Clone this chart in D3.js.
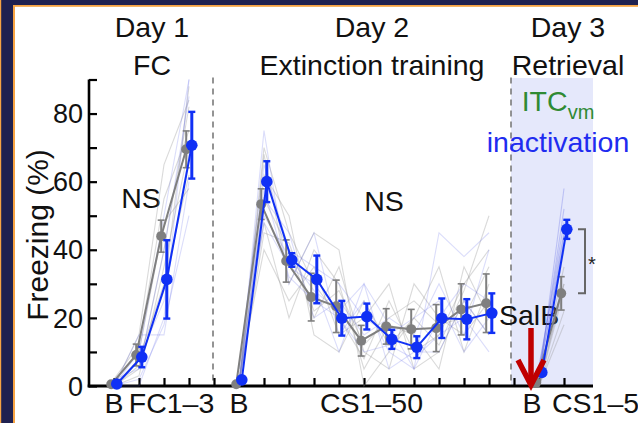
<!DOCTYPE html>
<html><head><meta charset="utf-8">
<script src="https://cdn.jsdelivr.net/npm/d3@7"></script>
<style>
body{margin:0;background:#fff}
svg{display:block}
text{font-family:"Liberation Sans",Arial,Helvetica,sans-serif}
</style>
</head><body>
<svg id="c" width="638" height="423"></svg>
<script>
// ---------- data ----------
const dayTitles = ["Day 1", "Day 2", "Day 3"];
const daySubtitles = ["FC", "Extinction training", "Retrieval"];
const day1Cats = ["B", "FC1", "FC2", "FC3"];
const day2Cats = ["B", "CS1-5", "CS6-10", "CS11-15", "CS16-20", "CS21-25", "CS26-30", "CS31-35", "CS36-40", "CS41-45", "CS46-50"];
const day3Cats = ["B", "CS1-5"];

// group means (% freezing) and SEM
const ctrlMean1 = [0.5, 9.1, 44.0, 69.5];
const ctrlErr1  = [0.3, 3.2, 4.7, 5.4];
const itcMean1  = [0.6, 8.5, 31.3, 70.7];
const itcErr1   = [0.3, 3.0, 11.5, 9.8];

const ctrlMean2 = [0.5, 53.4, 36.7, 26.1, 23.4, 13.3, 17.5, 16.7, 17.0, 22.5, 24.3];
const ctrlErr2  = [0.3, 4.5, 6.2, 7.0, 7.7, 4.5, 5.2, 5.8, 6.9, 7.5, 8.6];
const itcMean2  = [1.8, 60.0, 37.0, 31.3, 19.9, 20.4, 13.7, 11.4, 19.9, 19.6, 21.4];
const itcErr2   = [0.5, 6.0, 2.0, 7.0, 5.1, 3.8, 2.8, 3.2, 5.8, 5.9, 5.8];

const ctrlMean3 = [1.0, 27.2];
const ctrlErr3  = [0.3, 4.9];
const itcMean3  = [4.0, 46.0];
const itcErr3   = [0.8, 2.8];

// individual animals (faint traces)
const ctrlAnimals1 = [[0,5,40,82],[2,12,55,75],[0,8,30,62],[0,15,65,84],[0,3,35,70],[1,10,48,58],[0,6,28,88]];
const itcAnimals1  = [[0,2,18,50],[0,10,50,90],[0,15,15,60],[2,5,40,85],[0,8,25,68],[0,0,20,90]];
const ctrlAnimals2 = [
  [0,70,45,30,20,8,25,10,15,30,40],
  [0,55,40,20,35,10,5,30,20,15,25],
  [3,40,25,35,15,20,30,5,10,25,15],
  [0,62,50,15,10,25,12,20,35,10,30],
  [5,48,20,40,30,5,18,15,5,35,20],
  [0,45,42,22,28,12,20,25,18,20,35],
  [0,68,30,45,40,0,10,20,12,28,50]
];
const itcAnimals2 = [
  [0,75,30,45,15,25,10,5,20,30,25],
  [2,55,45,20,25,15,20,15,30,15,40],
  [0,48,35,30,10,30,5,10,10,25,15],
  [5,65,40,35,30,20,15,20,25,10,20],
  [0,58,32,25,20,10,12,8,15,20,10],
  [0,50,38,28,22,30,18,5,45,38,45]
];
const ctrlAnimals3 = [[0,30],[0,22],[2,35],[0,18],[1,30],[0,28],[0,40]];
const itcAnimals3  = [[5,48],[3,52],[4,42],[6,45],[3,44],[2,58]];

const yTickValues = [0,10,20,30,40,50,60,70,80,90];
const yTickLabels = [0,20,40,60,80];

// ---------- layout ----------
const svg = d3.select("#c");
const W = 638, H = 423;
const FONT = 27, TFONT = 28.5;
const x = d3.scaleLinear().domain([-1, 19.16]).range([89, 593]);
const y = d3.scaleLinear().domain([0, 90]).range([386, 79.5]);
const day1Idx = day1Cats.map((d,i)=>i);          // 0..3
const day2Idx = day2Cats.map((d,i)=>5+i);        // 5..15
const day3Idx = day3Cats.map((d,i)=>17+i);       // 17..18
const sep1 = x(4) - 1, sep2 = x(15.88);
const off = 2.8;

const navy = "#1f2150", orange = "#f6a343";
const grayMean = "#7f7f7f", blueMean = "#1030f5";

// frame
svg.append("rect").attr("x",0).attr("y",0).attr("width",W).attr("height",H).attr("fill","#fff");
svg.append("rect").attr("x",0).attr("y",0).attr("width",W).attr("height",5).attr("fill",navy);
svg.append("rect").attr("x",0).attr("y",0).attr("width",13).attr("height",H).attr("fill",navy);
svg.append("rect").attr("x",0).attr("y",0).attr("width",1.2).attr("height",H).attr("fill",orange);
svg.append("rect").attr("x",13).attr("y",5).attr("width",2).attr("height",H).attr("fill",orange);
svg.append("rect").attr("x",13).attr("y",5).attr("width",W).attr("height",1.8).attr("fill",orange);

// shading (day 3 inactivation)
svg.append("rect").attr("x",sep2).attr("y",y(90)-1.5).attr("width",x.range()[1]-sep2).attr("height",y(0)-y(90)+1.5)
  .attr("fill","#e5e8fb");

// dashed separators
[sep1, sep2].forEach(sx=>{
  svg.append("line").attr("x1",sx).attr("x2",sx).attr("y1",y(90)-2).attr("y2",y(0))
    .attr("stroke","#7a7a7a").attr("stroke-width",1.6).attr("stroke-dasharray","6,5");
});

// axes
const yAxis = d3.axisRight(y).tickValues(yTickValues).tickSize(8).tickFormat("");
const gy = svg.append("g").attr("transform",`translate(${x.range()[0]},0)`).call(yAxis);
gy.select(".domain").remove();
gy.selectAll(".tick line").attr("stroke","#000").attr("stroke-width",2.2);
svg.append("line").attr("x1",x.range()[0]).attr("x2",x.range()[0]).attr("y1",y(90)).attr("y2",y(0)+1.3)
  .attr("stroke","#000").attr("stroke-width",2.6);
yTickLabels.forEach(v=>{
  svg.append("text").attr("x",x.range()[0]-6).attr("y",y(v)).attr("dy","0.36em")
    .attr("text-anchor","end").attr("font-size",FONT).attr("fill","#111").text(v);
});

const allIdx = d3.range(0,19);
const xAxis = d3.axisTop(x).tickValues(allIdx).tickSize(8).tickFormat("");
const gx = svg.append("g").attr("transform",`translate(0,${y(0)})`).call(xAxis);
gx.select(".domain").remove();
gx.selectAll(".tick line").attr("stroke","#000").attr("stroke-width",2.2);
svg.append("line").attr("x1",x.range()[0]-1.3).attr("x2",x.range()[1]).attr("y1",y(0)).attr("y2",y(0))
  .attr("stroke","#000").attr("stroke-width",2.8);

// x labels
const xlab = (t, px, anchor) => svg.append("text").attr("x",px).attr("y",413)
  .attr("text-anchor",anchor).attr("font-size",TFONT).attr("fill","#111").text(t);
xlab("B", x(day1Idx[0]), "middle");
xlab("FC1\u20133", x(2.3), "middle");
xlab("B", x(day2Idx[0]), "middle");
xlab("CS1\u201350", x(10.3), "middle");
xlab("B", x(day3Idx[0])-7, "middle");
xlab("CS1\u20135", x(day3Idx[1])-12, "start");

// y label
svg.append("text").attr("transform",`translate(48,235) rotate(-90)`).attr("text-anchor","middle")
  .attr("font-size",30).attr("fill","#111").text("Freezing (%)");

// titles
const title = (t, px, py, col) => svg.append("text").attr("x",px).attr("y",py).attr("text-anchor","middle")
  .attr("font-size",TFONT).attr("fill",col||"#111").text(t);
const dayCenters = [152, 372, 568];
dayTitles.forEach((t,i)=>title(t, dayCenters[i], 37));
daySubtitles.forEach((t,i)=>title(t, dayCenters[i], 75));

// ITCvm inactivation
const itc = svg.append("text").attr("x",558).attr("y",111).attr("text-anchor","middle").attr("font-size",TFONT).attr("fill","#2f8a34");
itc.append("tspan").text("ITC");
itc.append("tspan").attr("font-size",20).attr("dy",8).text("vm");
title("inactivation", 558, 152, "#1f2cf0");

// NS labels, SalB
title("NS", 141, 208);
title("NS", 384, 211);
svg.append("text").attr("x",499).attr("y",325).attr("font-size",TFONT).attr("fill","#111").text("SalB");

// ---------- individual traces ----------
const line = d3.line().x(d=>x(d[0])).y(d=>y(d[1]));
function traces(animals, idx, col){
  animals.forEach(a=>{
    svg.append("path").attr("d", line(a.map((v,i)=>[idx[i], v])))
      .attr("fill","none").attr("stroke",col).attr("stroke-width",1.1);
  });
}
traces(ctrlAnimals1, day1Idx, "rgba(150,150,150,0.35)");
traces(ctrlAnimals2, day2Idx, "rgba(150,150,150,0.35)");
traces(ctrlAnimals3, day3Idx, "rgba(150,150,150,0.35)");
traces(itcAnimals1, day1Idx, "rgba(90,100,230,0.22)");
traces(itcAnimals2, day2Idx, "rgba(90,100,230,0.22)");
traces(itcAnimals3, day3Idx, "rgba(90,100,230,0.30)");

// ---------- means ----------
const mline = d3.line().x(d=>d[0]).y(d=>y(d[1]));
function group(means, errs, idx, dx, col, lw, ew, r, cap){
  const pts = means.map((m,i)=>[x(idx[i])+dx, m]);
  svg.append("path").attr("d", mline(pts)).attr("fill","none").attr("stroke",col).attr("stroke-width",lw);
  const g = svg.append("g");
  means.forEach((m,i)=>{
    const px = x(idx[i])+dx, e = errs[i];
    g.append("line").attr("x1",px).attr("x2",px).attr("y1",y(m-e)).attr("y2",y(m+e)).attr("stroke",col).attr("stroke-width",ew);
    [m-e, m+e].forEach(v=>g.append("line").attr("x1",px-cap).attr("x2",px+cap).attr("y1",y(v)).attr("y2",y(v))
      .attr("stroke",col).attr("stroke-width",ew*0.8));
    g.append("circle").attr("cx",px).attr("cy",y(m)).attr("r",r).attr("fill",col);
  });
}
group(ctrlMean1, ctrlErr1, day1Idx, -off, grayMean, 2, 2, 5, 3.5);
group(ctrlMean2, ctrlErr2, day2Idx, -off, grayMean, 2, 2, 5, 3.5);
group(ctrlMean3, ctrlErr3, day3Idx, -off, grayMean, 2, 2, 5, 3.5);
group(itcMean1, itcErr1, day1Idx, off, blueMean, 2, 3, 5.8, 3.5);
group(itcMean2, itcErr2, day2Idx, off, blueMean, 2, 3, 5.8, 3.5);
group(itcMean3, itcErr3, day3Idx, off, blueMean, 2, 3, 5.8, 3.5);

// significance bracket
const bx = x(day3Idx[1]) + 21;
svg.append("path").attr("d",`M${bx-7},${y(itcMean3[1])} H${bx} V${y(ctrlMean3[1])} H${bx-7}`)
  .attr("fill","none").attr("stroke","#666").attr("stroke-width",2);
svg.append("text").attr("x",bx+3).attr("y",y((itcMean3[1]+ctrlMean3[1])/2)+10).attr("font-size",20).attr("fill","#222").text("*");

// red arrow (drug infusion)
const ax = x(day3Idx[0]) - 8;
svg.append("line").attr("x1",ax).attr("x2",ax).attr("y1",328).attr("y2",y(0)-4).attr("stroke","#c00000").attr("stroke-width",5.5);
svg.append("path").attr("d",`M${ax-13},${360} L${ax},${y(0)-1} L${ax+13},${360}`)
  .attr("fill","none").attr("stroke","#c00000").attr("stroke-width",5.5).attr("stroke-linejoin","miter");
</script>
</body></html>
